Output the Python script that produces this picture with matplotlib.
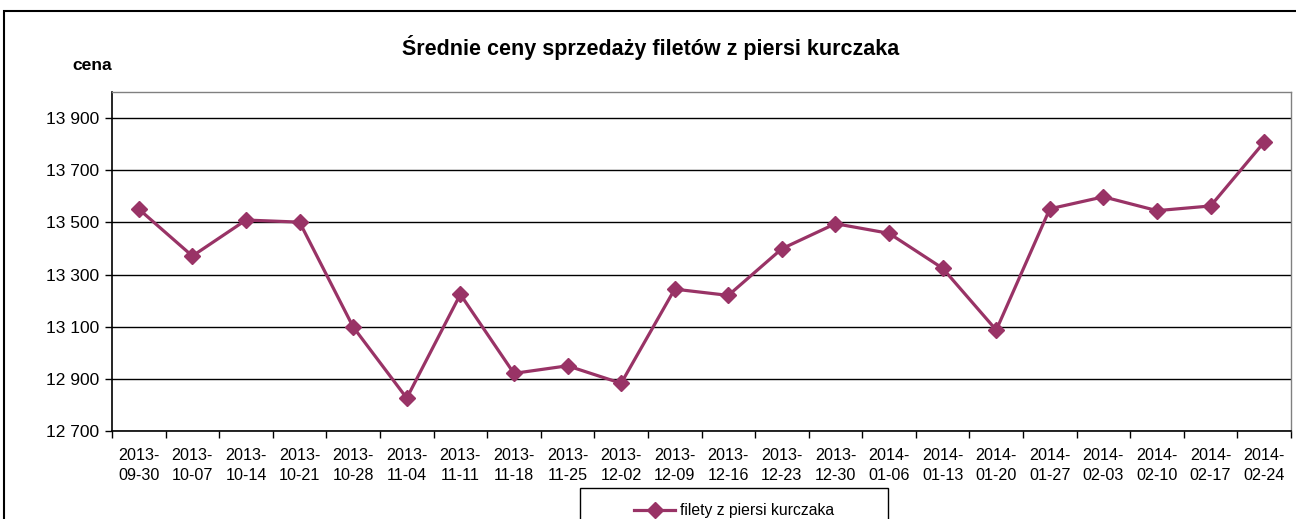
import matplotlib.pyplot as plt
from matplotlib.patches import Rectangle
from matplotlib.ticker import FuncFormatter, FixedLocator

plt.rcParams['font.family'] = ['Liberation Sans', 'DejaVu Sans']

# dane
dates = ['2013-09-30', '2013-10-07', '2013-10-14', '2013-10-21', '2013-10-28',
         '2013-11-04', '2013-11-11', '2013-11-18', '2013-11-25', '2013-12-02',
         '2013-12-09', '2013-12-16', '2013-12-23', '2013-12-30', '2014-01-06',
         '2014-01-13', '2014-01-20', '2014-01-27', '2014-02-03', '2014-02-10',
         '2014-02-17', '2014-02-24']
prices = [13551, 13371, 13509, 13501, 13099, 12826, 13224, 12921, 12950, 12883,
          13244, 13220, 13399, 13495, 13458, 13324, 13087, 13552, 13598, 13545,
          13563, 13808]
y_ticks = [12700, 12900, 13100, 13300, 13500, 13700, 13900]

labels = [d[:5] + '\n' + d[5:] for d in dates]
x = list(range(len(dates)))

fig = plt.figure(figsize=(12.96, 5.19), dpi=100)
ax = fig.add_axes([112 / 1296, 1 - 431 / 519, 1179 / 1296, 339 / 519])

ax.plot(x, prices, color='#993366', linewidth=2.3, marker='D', markersize=8,
        label='filety z piersi kurczaka', zorder=3)

ax.set_xlim(-0.5, len(dates) - 0.5)
ax.set_ylim(12700, 14000)
ax.set_yticks(y_ticks)
ax.yaxis.set_major_formatter(FuncFormatter(lambda v, p: f'{int(v):,}'.replace(',', ' ')))
ax.grid(axis='y', color='black', linewidth=1)

# etykiety kategorii na środku, kreski między kategoriami
ax.set_xticks(x)
ax.set_xticklabels(labels, linespacing=1.45)
ax.xaxis.set_minor_locator(FixedLocator([i - 0.5 for i in range(len(dates) + 1)]))
ax.tick_params(axis='x', which='major', length=0, pad=12, labelsize=11.6)
ax.tick_params(axis='x', which='minor', length=5, width=1, direction='out')
ax.tick_params(axis='y', length=5, width=1, pad=4, labelsize=12.5)

for s in ['left', 'bottom']:
    ax.spines[s].set_color('black')
    ax.spines[s].set_linewidth(1.2)
for s in ['top', 'right']:
    ax.spines[s].set_color('#808080')
    ax.spines[s].set_linewidth(1)

fig.text(651 / 1296, 1 - 48 / 519, 'Średnie ceny sprzedaży filetów z piersi kurczaka',
         ha='center', va='center', fontsize=15.5, fontweight='bold')
fig.text(92 / 1296, 1 - 65 / 519, 'cena', ha='center', va='center',
         fontsize=12.6, fontweight='bold')

leg = fig.legend(loc='upper center', bbox_to_anchor=(734 / 1296, 1 - 489 / 519),
                 frameon=False, fontsize=11.3, handlelength=2.6, handletextpad=0.3)

# ramka legendy i ramka całego wykresu
fig.patches.append(Rectangle((580 / 1296, -0.05), 308 / 1296, 0.05 + 31 / 519,
                             transform=fig.transFigure, fill=False,
                             edgecolor='black', linewidth=1))
fig.patches.append(Rectangle((4 / 1296, -0.05), 1.1, 0.05 + 1 - 11 / 519,
                             transform=fig.transFigure, fill=False,
                             edgecolor='black', linewidth=1.5))

fig.savefig('out.png', dpi=100)
